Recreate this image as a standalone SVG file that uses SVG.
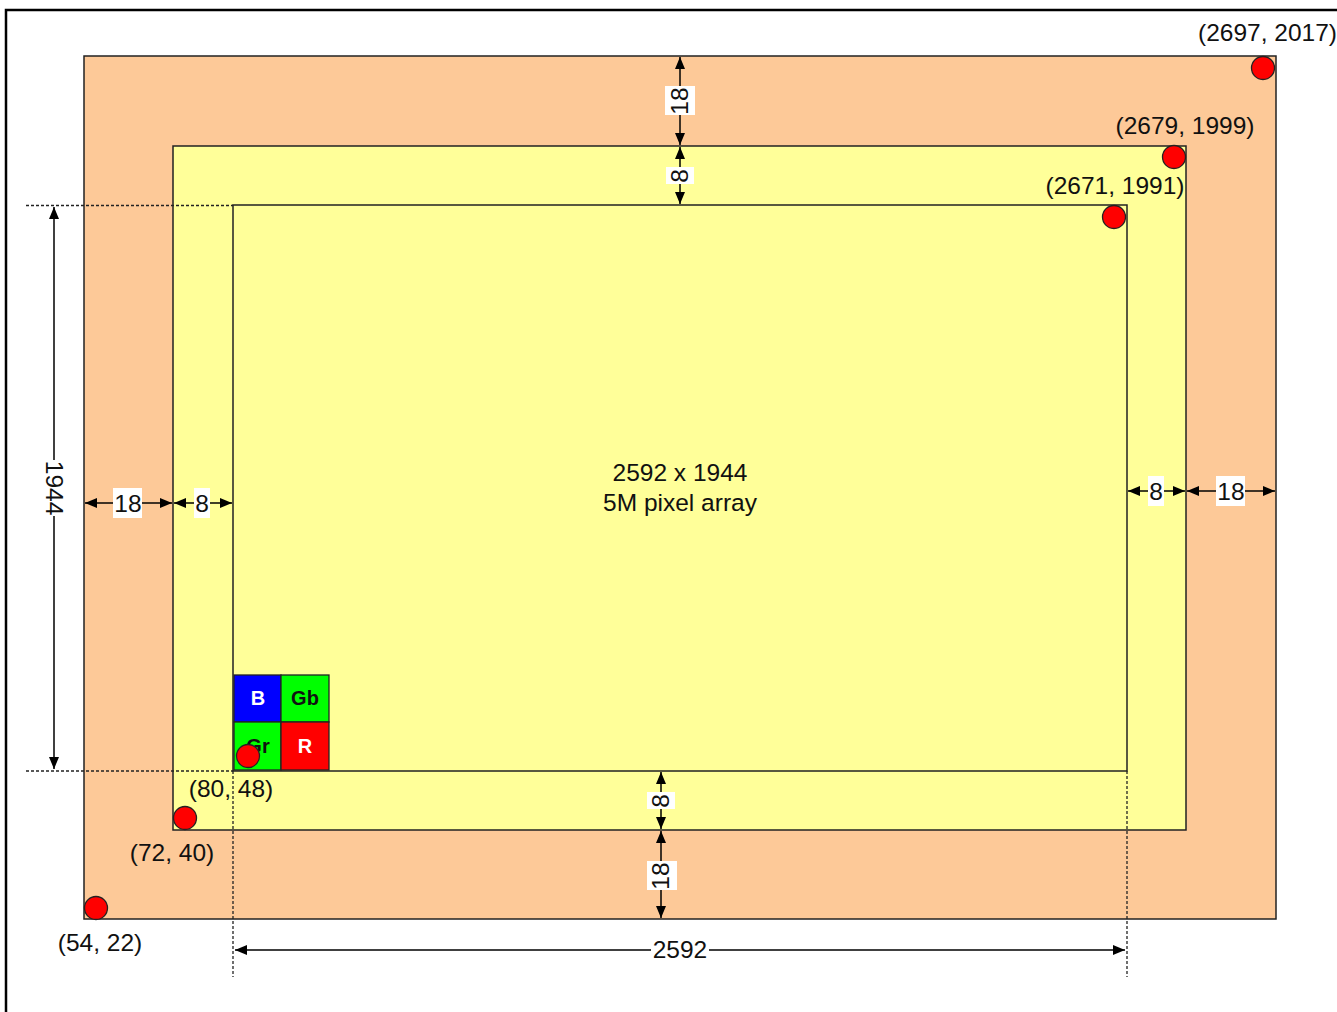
<svg xmlns="http://www.w3.org/2000/svg" width="1337" height="1012" viewBox="0 0 1337 1012">
<defs>
<marker id="ah" viewBox="0 0 12 10" refX="12" refY="5" markerWidth="12" markerHeight="10" markerUnits="userSpaceOnUse" orient="auto-start-reverse">
<path d="M0,0 L12,5 L0,10 Z" fill="#000"/>
</marker>
</defs>
<style>
text{font-family:"Liberation Sans",Arial,sans-serif;font-size:24.5px;fill:#111}
.frame{fill:#fff;stroke:#000;stroke-width:2.5}
.box{stroke:#222;stroke-width:1.5}
.dot{fill:#f00;stroke:#222;stroke-width:1.3}
.dim{stroke:#000;stroke-width:1.5;fill:none}
.dash{stroke:#222;stroke-width:1.3;stroke-dasharray:3,2;fill:none}
.lbl{fill:#fff}
.mid{text-anchor:middle}
.bay{stroke:#222;stroke-width:1.3}
.bt{font-weight:bold;font-size:20px;text-anchor:middle}
</style>
<rect class="frame" x="6" y="10" width="1360" height="1040"/>
<g id="outer"><rect class="box" x="84" y="56" width="1192" height="863" fill="#FDC998"/></g>
<g id="middle"><rect class="box" x="173" y="146" width="1013" height="684" fill="#FFFF99"/></g>
<g id="inner"><rect class="box" x="233" y="205" width="894" height="566" fill="#FFFF99"/>
<text class="mid" x="680" y="481">2592 x 1944</text>
<text class="mid" x="680" y="511">5M pixel array</text></g>
<g id="bayer">
<rect class="bay" x="234" y="675" width="47" height="47" fill="#0000FF"/>
<rect class="bay" x="281" y="675" width="48" height="47" fill="#00FF00"/>
<rect class="bay" x="234" y="722" width="47" height="48" fill="#00FF00"/>
<rect class="bay" x="281" y="722" width="48" height="48" fill="#FF0000"/>
<text class="bt" x="258" y="705" style="fill:#fff">B</text>
<text class="bt" x="305" y="705">Gb</text>
<text class="bt" x="258" y="753">Gr</text>
<text class="bt" x="305" y="753" style="fill:#fff">R</text>
</g>
<g id="points">
<circle class="dot" cx="1263" cy="68" r="11.5"/>
<circle class="dot" cx="1174" cy="157" r="11.5"/>
<circle class="dot" cx="1114" cy="217" r="11.5"/>
<circle class="dot" cx="248" cy="756" r="11.5"/>
<circle class="dot" cx="185" cy="818" r="11.5"/>
<circle class="dot" cx="96" cy="908" r="11.5"/>
<text x="1337" y="41" text-anchor="end">(2697, 2017)</text>
<text class="mid" x="1185" y="134">(2679, 1999)</text>
<text class="mid" x="1115" y="194">(2671, 1991)</text>
<text class="mid" x="231" y="797">(80, 48)</text>
<text class="mid" x="172" y="861">(72, 40)</text>
<text class="mid" x="100" y="951">(54, 22)</text>
</g>
<g id="connectors">
<path class="dash" d="M26,205.5 H233 M26,771 H233 M233,771 V977 M1127,771 V977"/>
<path class="dim" d="M54,207 V460" marker-start="url(#ah)"/>
<path class="dim" d="M54,516 V769" marker-end="url(#ah)"/>
<text class="mid" transform="translate(46,488) rotate(90)">1944</text>
<path class="dim" d="M235,950 H651" marker-start="url(#ah)"/>
<path class="dim" d="M709,950 H1125" marker-end="url(#ah)"/>
<text class="mid" x="680" y="958">2592</text>
<path class="dim" d="M680,57 V145" marker-start="url(#ah)" marker-end="url(#ah)"/>
<path class="dim" d="M680,147 V204" marker-start="url(#ah)" marker-end="url(#ah)"/>
<path class="dim" d="M661,772 V829" marker-start="url(#ah)" marker-end="url(#ah)"/>
<path class="dim" d="M661,831 V918" marker-start="url(#ah)" marker-end="url(#ah)"/>
<path class="dim" d="M85,503 H172" marker-start="url(#ah)" marker-end="url(#ah)"/>
<path class="dim" d="M174,503 H232" marker-start="url(#ah)" marker-end="url(#ah)"/>
<path class="dim" d="M1128,491 H1185" marker-start="url(#ah)" marker-end="url(#ah)"/>
<path class="dim" d="M1187,491 H1275" marker-start="url(#ah)" marker-end="url(#ah)"/>
<rect class="lbl" x="665" y="86" width="30" height="29"/>
<text class="mid" transform="translate(688,101) rotate(-90)">18</text>
<rect class="lbl" x="666" y="167" width="28" height="17"/>
<text class="mid" transform="translate(688,176) rotate(-90)">8</text>
<rect class="lbl" x="647" y="792" width="28" height="17"/>
<text class="mid" transform="translate(669,801) rotate(-90)">8</text>
<rect class="lbl" x="647" y="861" width="30" height="29"/>
<text class="mid" transform="translate(669,876) rotate(-90)">18</text>
<rect class="lbl" x="113" y="488" width="29" height="30"/>
<text class="mid" x="128" y="512">18</text>
<rect class="lbl" x="194" y="488" width="16" height="30"/>
<text class="mid" x="202" y="512">8</text>
<rect class="lbl" x="1148" y="476" width="16" height="30"/>
<text class="mid" x="1156" y="500">8</text>
<rect class="lbl" x="1216" y="476" width="29" height="30"/>
<text class="mid" x="1231" y="500">18</text>
</g>
</svg>
